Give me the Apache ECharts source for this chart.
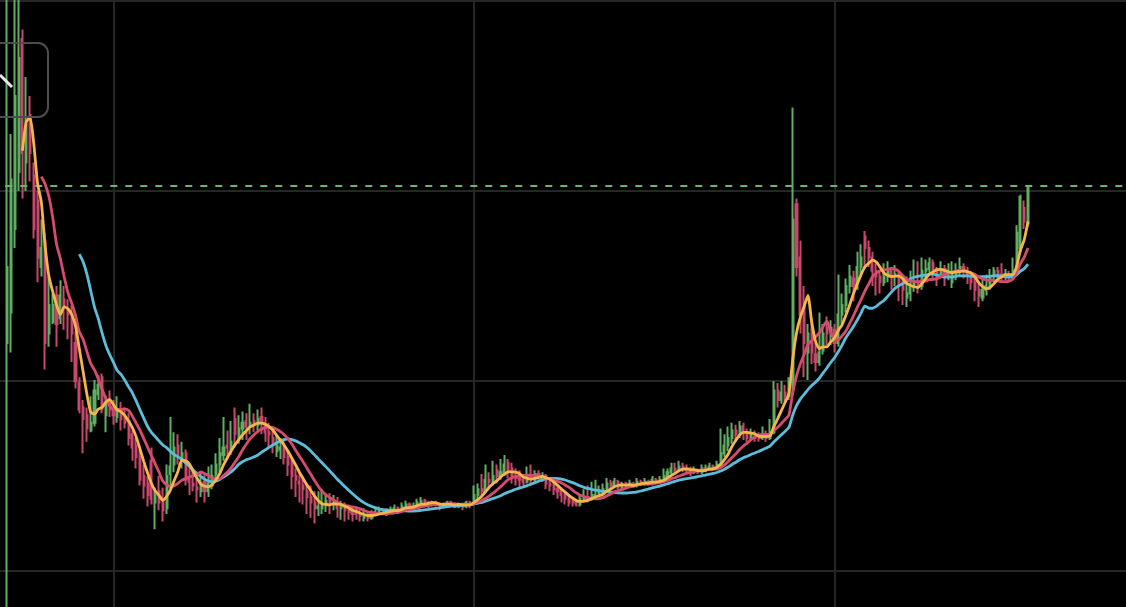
<!DOCTYPE html>
<html><head><meta charset="utf-8">
<script src="https://cdn.jsdelivr.net/npm/echarts@6/dist/echarts.min.js"></script>
<style>html,body{margin:0;padding:0;background:#000;overflow:hidden}#c{width:1126px;height:607px}</style>
</head><body><div id="c"></div>
<script>
// [open, close, low, high]
const ohlc = [
[22,26,7,41],[23.6,30.6,21.5,33],[28,35,27,41],[31,37,30,40.5],[38,32,29.6,38.5],
[31.5,33.5,30,36],[34,32,30.5,35],[30.8,28,27.5,31.5],[29.5,26.5,25.2,30],[26,27,25.5,28.5],
[27.4,22,20.6,27.8],[22.5,24,21.8,25.5],[23.1,24,23,24.6],[24.5,23,21.8,25],[23.3,24.5,23,25.3],
[24.3,24,22.7,25],[23.8,23.5,22.2,24.3],[23.5,22.5,21,24],[22,20,19.6,22.6],[19.9,18.5,18.3,20.2],
[18.6,18,16.2,19],[18.2,17.5,16.8,18.6],[17.4,17.8,17.3,19.2],[17.8,19.5,17.6,20.05],[19.3,19.8,19,20.3],
[20.2,18.5,18.3,20.4],[18.2,18.8,17.3,19.2],[18.9,18.5,18.1,19.5],[18.6,18.2,17.7,19],[18.1,18.4,17.8,19.2],
[18.5,18,17.4,18.9],[18.1,17.8,17.5,18.6],[17.9,17,16.6,18.3],[17.2,16.5,15.8,17.5],[16.6,16,15.4,17],
[16,14.8,14.5,16.4],[15,14.5,13.8,15.6],[14.6,14,13.4,15],[15.8,13.8,13.5,16.5],[13.6,14,12.2,14.4],
[14.2,13.6,13.2,15],[13.8,13.2,12.6,14.4],[13.3,15,13,15.6],[15.1,15.5,14.3,18.1],[15.6,16.5,15.2,17.3],
[16.6,16,15.6,17.2],[15.8,16.2,15.4,16.8],[16.2,14.8,14.5,16.4],[14.9,14.7,14,15.5],[14.6,14.5,14.2,15.3],
[14.4,14.3,13.6,14.9],[14.2,14.6,13.9,15.2],[14.7,14.2,13.6,15.1],[14.2,14.6,13.9,15.5],[14.5,15,14.3,15.6],
[15.1,15.6,14.9,16.2],[15.6,16.2,15.2,17],[16.1,16.5,15.8,18.1],[16.6,16.5,15.9,17.4],[16.5,16.8,16.1,17.9],
[18,17.2,16.5,18.6],[17.1,17.5,16.7,18.2],[17.5,17.8,16.9,18.4],[17.9,17.6,16.9,18.3],[17.6,17.8,17.2,18.8],
[17.9,17.7,17.3,18.3],[17.7,18,17.4,18.5],[18.1,17.8,17.2,18.6],[17.8,17.3,16.8,18.1],[17.3,17.2,16.5,17.8],
[17,16.8,16.2,17.6],[16.3,16.6,16,17.1],[16.4,16.5,15.9,17],[16.5,16,15.6,16.9],[16,15.6,15,16.4],
[15.7,15,14.3,16],[15,14.8,13.9,15.4],[14.7,14.6,13.6,15.2],[14.5,14.3,13.5,14.9],[14.2,13.9,13,14.6],
[13.9,13.6,12.8,14.5],[13.6,13.3,12.5,14.2],[13.3,13.4,12.9,14.2],[13.3,13.5,13,14.3],[13.5,13.7,13.1,14],
[13.8,13.5,13,14.1],[13.5,13.6,13.2,14],[13.6,13.3,12.8,13.9],[13.3,13.4,12.7,13.7],[13.4,13.2,12.6,13.6],
[13.2,13.1,12.7,13.5],[13.1,13,12.6,13.4],[13.1,13,12.7,13.3],[13,12.9,12.6,13.2],[12.8,12.9,12.6,13.3],
[12.9,12.8,12.6,13.1],[12.8,13,12.7,13.2],[13,13.1,12.9,13.4],[13.1,13.2,13,13.4],[13.2,13.1,13,13.3],
[13,13.1,12.9,13.3],[13.1,13.2,13,13.4],[13.2,13.3,13.1,13.5],[13.3,13.2,13,13.4],[13.2,13.4,13.1,13.6],
[13.4,13.5,13.3,13.7],[13.5,13.3,13.2,13.6],[13.3,13.4,13.2,13.6],[13.4,13.6,13.3,13.8],[13.6,13.7,13.5,13.9],
[13.7,13.6,13.5,13.8],[13.6,13.5,13.3,13.7],[13.5,13.6,13.4,13.7],[13.6,13.5,13.4,13.7],[13.5,13.4,13.2,13.6],
[13.4,13.5,13.3,13.6],[13.5,13.6,13.4,13.7],[13.6,13.5,13.4,13.7],[13.5,13.4,13.3,13.6],[13.4,13.5,13.3,13.6],
[13.5,13.4,13.2,13.6],[13.4,13.6,13.3,13.7],[13.6,13.5,13.3,13.7],[13.6,14,13.5,14.5],[14,14.3,13.8,14.6],
[14.3,14.2,13.9,15.1],[14.2,14.8,14.1,15.6],[14.8,14.7,14.3,15.2],[14.7,15,14.5,15.8],[15.3,15,14.6,15.6],
[15,15.2,14.8,15.9],[15.2,15.6,15,16.1],[15.7,15.3,14.9,15.9],[15.4,15,14.6,15.7],[15,14.9,14.5,15.4],
[14.9,14.8,14.4,15.3],[14.8,14.7,14.4,15.1],[14.7,15,14.6,15.5],[15,14.8,14.5,15.6],[14.8,15.1,14.7,15.3],
[15.1,15,14.8,15.3],[14.9,15,14.7,15.2],[15,14.6,14.3,15.1],[14.6,14.5,14.2,14.9],[14.5,14.3,14,14.7],
[14.3,14.2,13.8,14.5],[14.2,14,13.6,14.4],[14,13.8,13.5,14.2],[13.8,13.6,13.4,14],[13.7,13.6,13.4,13.9],
[13.6,13.5,13.4,13.8],[13.5,13.8,13.4,14],[13.8,13.9,13.6,14.3],[13.9,13.8,13.6,14.5],[13.8,14,13.7,14.7],
[13.9,14,13.8,14.8],[14,14.1,13.9,14.5],[14.1,14.3,14,14.6],[14.3,14.6,14.2,14.9],[14.6,14.5,14.3,14.8],
[14.5,14.7,14.4,14.9],[14.7,14.4,14.3,14.8],[14.4,14.5,14.3,14.7],[14.6,14.5,14.3,14.7],[14.5,14.6,14.4,14.8],
[14.6,14.5,14.4,14.7],[14.5,14.7,14.4,14.9],[14.7,14.6,14.5,14.8],[14.6,14.7,14.5,14.9],[14.7,14.6,14.5,14.8],
[14.6,14.8,14.5,15],[14.8,14.7,14.6,14.9],[14.7,14.8,14.6,15],[14.8,15,14.7,15.4],[15,15.2,14.9,15.4],
[15.2,15.4,15,15.7],[15.4,15.3,15.1,15.7],[15.3,15.5,15.2,15.8],[15.5,15.4,15.2,15.7],[15.4,15.3,15.1,15.6],
[15.3,15.2,15,15.5],[15.2,15.3,15.1,15.5],[15.3,15.2,15.1,15.4],[15.2,15.4,15.1,15.6],[15.3,15.4,15.2,15.6],
[15.4,15.5,15.3,15.7],[15.5,15.4,15.3,15.6],[15.4,15.6,15.3,15.8],[15.6,16.2,15.5,17.5],[16.2,16.6,16,17.2],
[16.6,17,16.3,17.6],[17,17.4,16.7,17.8],[17.4,17.2,16.8,17.7],[17.2,17.6,17,17.9],[17.6,17.3,16.9,17.8],
[17.3,17,16.8,17.5],[17,17.2,16.9,17.5],[17.2,17,16.8,17.4],[17.1,17,16.8,17.3],[17,17.2,16.9,17.6],
[17.2,17,16.8,17.4],[17,17.3,16.9,18],[17.3,19.5,17.2,20],[19.5,19,18.6,19.9],[19,19.4,18.8,20],
[19.4,19.2,18.9,19.8],[19.2,19.6,19,20.2],[19.6,28.5,19.3,34.4],[29.3,26,25.5,29.6],[26.5,23.5,22.5,27.4],
[24,22,20.2,25],[21.5,22.5,20.05,23],[22.6,21.5,20.9,23.3],[21.4,21,20.5,22],[21,21.5,20.8,23.6],
[21.6,22.5,21.4,23],[22.8,22.5,21.9,23.4],[22.4,22.8,21.9,23.2],[22.7,22,21.5,23],[22,23.5,21.8,25.6],
[23.5,24,23,24.6],[24,25,23.6,25.4],[25,25.5,24.6,26.1],[25.4,25,24.2,25.8],[25,26,24.8,26.8],
[26,26.5,25.6,27.2],[27.6,27,26,27.9],[27,26.5,26,27.4],[26.5,25.8,25,26.8],[25.8,25.5,24.5,26.2],
[25.5,25.2,24.6,25.8],[25.2,25.5,25,26.2],[25.5,25.8,25.2,26.3],[25.8,25.5,24.8,26],[25.5,25.6,25,26.1],
[25.6,25.2,24.2,25.8],[25.2,24.8,24,25.6],[24.4,24.6,23.9,25.5],[24.6,25,24.2,25.8],[25,25.2,24.7,26.4],
[25.2,25,24.6,26.3],[25,25.8,24.8,26.5],[25.8,25.9,25.4,26.4],[25.9,26.2,25.6,26.5],[26.2,25.8,25.4,26.4],
[25.8,25.6,25,26],[25.6,25.9,25.4,26.3],[25.9,25.6,25,26.1],[25.6,25.8,25.3,26.2],[25.2,25.6,24.9,26.3],
[25.6,25.8,25.3,26.2],[25.8,26,25.5,26.5],[26,25.8,25.4,26.2],[25.8,25.6,25.1,26],[25.6,25.2,24.8,25.8],
[25.2,24.8,24.2,25.5],[24.8,24.5,23.9,25.1],[24.4,24.8,24.2,25.4],[24.8,25,24.5,25.6],[25,25.5,24.8,25.9],
[25.5,25.8,25.2,26],[25.8,25.6,25.3,26],[25.6,25.5,25.2,26.2],[25.5,25.6,25.3,25.9],[25.6,25.5,25.2,25.8],
[25.5,25.8,25.3,26.5],[25.8,27.8,25.6,28.2],[27,29.7,26.8,29.8],[29.1,28.4,28,29.5],[28.3,30.26,28.1,30.26]
];
const slotCount = 295;
const categories = Array.from({length: slotCount}, (_, i) => String(i + 1));
const maPeriods = [5, 10, 20];
const maColors = ['#f4b64c', '#d64c70', '#5bbdd9'];
const lastPrice = ohlc[ohlc.length - 1][1];

function calcMA(p) {
  const out = [];
  for (let i = 0; i < ohlc.length; i++) {
    if (i < p - 1) { out.push('-'); continue; }
    let s = 0;
    for (let j = 0; j < p; j++) s += ohlc[i - j][1];
    out.push(+(s / p).toFixed(3));
  }
  return out;
}

const chart = echarts.init(document.getElementById('c'), null, {renderer: 'canvas'});
const gridLine = {color: '#262626', width: 2};
const hidden = {axisLine: {show: false}, axisTick: {show: false}, axisLabel: {show: false}};
const option = {
  backgroundColor: '#000',
  animation: false,
  grid: [
    {left: 5.3, right: 1.2, top: 0, bottom: 0},
    {left: 113.5, right: 291.5, top: 0, bottom: 0},
    {left: 0, right: 0, top: 1, bottom: 36}
  ],
  xAxis: [
    Object.assign({type: 'category', gridIndex: 0, data: categories, splitLine: {show: false}}, hidden),
    Object.assign({type: 'value', gridIndex: 1, min: 0, max: 2, interval: 1, splitLine: {show: true, lineStyle: gridLine}}, hidden),
    Object.assign({type: 'value', gridIndex: 2, min: 0, max: 1, splitLine: {show: false}}, hidden)
  ],
  yAxis: [
    Object.assign({type: 'value', gridIndex: 0, min: 8.105, max: 40.053, splitLine: {show: false}}, hidden),
    Object.assign({type: 'value', gridIndex: 1, min: 0, max: 1, splitLine: {show: false}}, hidden),
    Object.assign({type: 'value', gridIndex: 2, min: 10, max: 40, interval: 10, splitLine: {show: true, lineStyle: gridLine}}, hidden)
  ],
  series: [
    {
      type: 'candlestick', xAxisIndex: 0, yAxisIndex: 0, data: ohlc, barWidth: 1.6,
      itemStyle: {color: '#5fae62', color0: '#c7486c', borderColor: '#5fae62', borderColor0: '#c7486c', borderWidth: 2},
      markLine: {
        silent: true, symbol: 'none', label: {show: false},
        lineStyle: {color: '#6db36f', type: [7, 8], width: 2},
        data: [{yAxis: lastPrice}]
      }
    }
  ].concat(maPeriods.slice().reverse().map((p, k) => ({
    type: 'line', name: 'MA' + p, xAxisIndex: 0, yAxisIndex: 0,
    data: calcMA(p), smooth: 0.2, showSymbol: false, symbol: 'none',
    lineStyle: {width: 2.8, color: maColors[maPeriods.indexOf(p)]}, z: 3 + k
  }))),
  graphic: [
    {type: 'rect', z: 100, shape: {x: -12, y: 43, width: 60, height: 74, r: 10},
     style: {fill: 'rgba(0,0,0,0)', stroke: '#4d4d4d', lineWidth: 2}},
    {type: 'line', z: 101, shape: {x1: 0, y1: 75, x2: 12, y2: 87},
     style: {stroke: '#e8e8e8', lineWidth: 3}}
  ]
};
chart.setOption(option);
</script></body></html>
